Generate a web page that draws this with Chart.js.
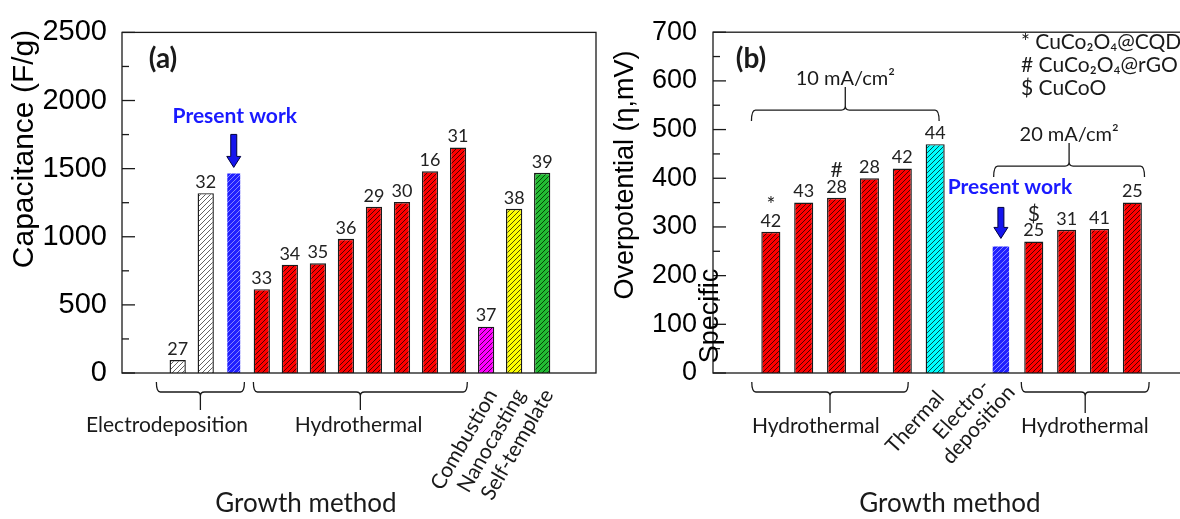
<!DOCTYPE html>
<html>
<head>
<meta charset="utf-8">
<script src="https://cdn.jsdelivr.net/npm/chart.js@4.4.0/dist/chart.umd.min.js"></script>
<style>
    html, body { margin: 0; padding: 0; background: #fff; width: 1180px; height: 519px; overflow: hidden; }
    #capa { position: absolute; left: 0; top: 0; }
    #over { position: absolute; left: 600px; top: 0; }
</style>
</head>
<body>
<canvas id="capa" width="600" height="519"></canvas>
<canvas id="over" width="585" height="519"></canvas>
<script>
// (a) specific capacitance (F/g), one bar per reference
const capRefs    = ['27', '32', '', '33', '34', '35', '36', '29', '30', '16', '31', '37', '38', '39'];
const capMethods = ['Electrodeposition', 'Electrodeposition', 'Electrodeposition',
                    'Hydrothermal', 'Hydrothermal', 'Hydrothermal', 'Hydrothermal',
                    'Hydrothermal', 'Hydrothermal', 'Hydrothermal', 'Hydrothermal',
                    'Combustion', 'Nanocasting', 'Self-template'];
const capValues  = [95, 1320, 1465, 615, 795, 805, 985, 1220, 1255, 1480, 1655, 340, 1205, 1470];
const capPresent = 2;
const capTicks   = [0, 500, 1000, 1500, 2000, 2500];

// (b) overpotential (mV); index 6 is an empty slot
const etaRefs    = ['42', '43', '28', '28', '42', '44', '', '', '25', '31', '41', '25'];
const etaMarks   = ['*', '', '#', '', '', '', '', '', '$', '', '', ''];
const etaMethods = ['Hydrothermal', 'Hydrothermal', 'Hydrothermal', 'Hydrothermal', 'Hydrothermal',
                    'Thermal', null, 'Electrodeposition',
                    'Hydrothermal', 'Hydrothermal', 'Hydrothermal', 'Hydrothermal'];
const etaValues  = [290, 350, 360, 400, 420, 470, null, 260, 270, 294, 296, 350];
const etaPresent = 7;
const etaTicks   = [0, 100, 200, 300, 400, 500, 600, 700];
const etaLegend  = ['* CuCo\u2082O\u2084@CQD', '# CuCo\u2082O\u2084@rGO', '$ CuCoO'];

const ink = '#1a1a1a';
const sans = 'Lato, "Open Sans", sans-serif';
const arial = '"Liberation Sans", Arial, sans-serif';

function hatch(bg, line) {
    const c = document.createElement('canvas');
    c.width = c.height = 5;
    const g = c.getContext('2d');
    g.fillStyle = bg;
    g.fillRect(0, 0, 5, 5);
    g.strokeStyle = line;
    g.lineWidth = 0.9;
    g.beginPath();
    g.moveTo(0, 5); g.lineTo(5, 0);
    g.moveTo(-1, 1); g.lineTo(1, -1);
    g.moveTo(4, 6); g.lineTo(6, 4);
    g.stroke();
    return g.createPattern(c, 'repeat');
}

const fills = {
    'Electrodeposition': hatch('#ffffff', '#505050'),
    'Hydrothermal': hatch('#ff0000', '#3c0000'),
    'Combustion': hatch('#ff00ff', '#3c003c'),
    'Nanocasting': hatch('#ffff00', '#3c3c00'),
    'Self-template': hatch('#22bb33', '#003c00'),
    'Thermal': hatch('#00ffff', '#003c3c')
};
const presentFill = hatch('#2020ff', '#9090ff');

function points(values, present, onlyPresent) {
    const out = [];
    values.forEach((v, i) => {
        if (v == null) return;
        if ((i === present) === onlyPresent) out.push({ x: i, y: v });
    });
    return out;
}

function datasets(values, methods, present, pctMain, pctPresent) {
    const main = points(values, present, false);
    const own = points(values, present, true);
    return [{
        data: main,
        backgroundColor: main.map(p => fills[methods[p.x]]),
        borderColor: ink,
        borderWidth: 1.4,
        barPercentage: pctMain,
        categoryPercentage: 1,
        grouped: false
    }, {
        data: own,
        backgroundColor: presentFill,
        borderWidth: 0,
        barPercentage: pctPresent,
        categoryPercentage: 1,
        grouped: false
    }];
}

// frame + inward ticks on the y axis
function drawBox(chart) {
    const { ctx, chartArea: a } = chart;
    const y = chart.scales.y;
    ctx.save();
    ctx.strokeStyle = ink;
    ctx.lineWidth = 1.3;
    ctx.strokeRect(a.left, a.top, a.right - a.left, a.bottom - a.top);
    y.ticks.forEach(t => {
        const py = y.getPixelForValue(t.value);
        const len = t.label === '' ? 7 : 13;
        ctx.beginPath();
        ctx.moveTo(a.left, py);
        ctx.lineTo(a.left + len, py);
        ctx.stroke();
    });
    ctx.restore();
}

function bracket(ctx, x1, x2, xc, yEnd, yBar, yTip) {
    const r = 4;
    const s = Math.sign(yTip - yBar);
    ctx.beginPath();
    ctx.moveTo(x1, yEnd);
    ctx.quadraticCurveTo(x1, yBar, x1 + r, yBar);
    ctx.lineTo(xc - r, yBar);
    ctx.quadraticCurveTo(xc, yBar, xc, yBar + s * r);
    ctx.lineTo(xc, yTip);
    ctx.moveTo(xc, yBar + s * r);
    ctx.quadraticCurveTo(xc, yBar, xc + r, yBar);
    ctx.lineTo(x2 - r, yBar);
    ctx.quadraticCurveTo(x2, yBar, x2, yEnd);
    ctx.stroke();
}

function text(ctx, str, x, y, font, color, align, deg) {
    ctx.save();
    ctx.translate(x, y);
    if (deg) ctx.rotate(-deg * Math.PI / 180);
    ctx.font = font;
    ctx.fillStyle = color || ink;
    ctx.textAlign = align || 'center';
    ctx.textBaseline = 'middle';
    const lines = String(str).split('\n');
    lines.forEach((l, k) => ctx.fillText(l, 0, (k - (lines.length - 1) / 2) * 23));
    ctx.restore();
}

function arrow(ctx, x, tip, len) {
    ctx.save();
    ctx.beginPath();
    ctx.moveTo(x - 3, tip - len);
    ctx.lineTo(x + 3, tip - len);
    ctx.lineTo(x + 3, tip - 11);
    ctx.lineTo(x + 7, tip - 11);
    ctx.lineTo(x, tip);
    ctx.lineTo(x - 7, tip - 11);
    ctx.lineTo(x - 3, tip - 11);
    ctx.closePath();
    ctx.fillStyle = '#1515ee';
    ctx.fill();
    ctx.strokeStyle = '#000040';
    ctx.lineWidth = 1;
    ctx.stroke();
    ctx.restore();
}

function valueLabels(chart, refs, marks) {
    const { ctx } = chart;
    const meta = chart.getDatasetMeta(0);
    meta.data.forEach((bar, j) => {
        const i = chart.data.datasets[0].data[j].x;
        text(ctx, refs[i], bar.x, bar.y - 11, '18px ' + sans, '#222');
        if (marks && marks[i]) text(ctx, marks[i], bar.x, bar.y - 27, '21px ' + sans, '#222');
    });
}

function presentWork(chart, dx, textUp, tipUp, len) {
    const bar = chart.getDatasetMeta(1).data[0];
    text(chart.ctx, 'Present work', bar.x + dx, bar.y - textUp, 'bold 21px ' + sans, '#1a1aff');
    arrow(chart.ctx, bar.x, bar.y - tipUp, len);
}

const capNotes = {
    id: 'capNotes',
    afterDraw(chart) {
        const { ctx, chartArea: a } = chart;
        const x = chart.scales.x;
        drawBox(chart);
        valueLabels(chart, capRefs);
        presentWork(chart, 1, 57, 6, 33);

        text(ctx, 'Capacitance (F/g)', 25, 149, '30px ' + arial, '#000', 'center', 90);
        text(ctx, '(a)', a.left + 41, a.top + 27, 'bold 28px ' + sans);
        text(ctx, 'Growth method', 306, 504, '26px ' + sans);

        ctx.save();
        ctx.strokeStyle = ink;
        ctx.lineWidth = 1.3;
        const b = a.bottom;
        [[-0.76, 2.38, 'Electrodeposition', -0.38], [2.7, 10.33, 'Hydrothermal', 6.45]].forEach(g => {
            const x1 = x.getPixelForValue(g[0]), x2 = x.getPixelForValue(g[1]);
            bracket(ctx, x1, x2, (x1 + x2) / 2, b + 9, b + 19, b + 37);
            text(ctx, g[2], x.getPixelForValue(g[3]), b + 52, '21px ' + sans);
        });
        ctx.restore();
        capMethods.forEach((m, i) => {
            if (i > 0 && capMethods[i - 1] === m) return;
            if (i < capMethods.length - 1 && capMethods[i + 1] === m) return;
            text(ctx, m, x.getPixelForValue(i) + 6, b + 18, '21px ' + sans, ink, 'right', 60);
        });
    }
};

const etaNotes = {
    id: 'etaNotes',
    afterDraw(chart) {
        const { ctx, chartArea: a } = chart;
        const x = chart.scales.x, y = chart.scales.y;
        drawBox(chart);
        valueLabels(chart, etaRefs, etaMarks);
        presentWork(chart, 9, 59, 8, 31);

        text(ctx, 'Overpotential (\u03b7,mV)', 26, 175, '27px ' + arial, '#000', 'center', 90);
        text(ctx, 'Specific', a.left - 2, a.bottom - 57, '27px ' + arial, '#000', 'center', 90);
        text(ctx, '(b)', a.left + 38, a.top + 27, 'bold 28px ' + sans);
        text(ctx, 'Growth method', 350, 504, '26px ' + sans);
        etaLegend.forEach((l, k) => text(ctx, l, a.right - 160, 42 + k * 23, '21px ' + sans, ink, 'left'));

        ctx.save();
        ctx.strokeStyle = ink;
        ctx.lineWidth = 1.3;
        const b = a.bottom;
        [[-0.58, 4.18, 1.37], [7.62, 11.51, 9.555]].forEach(g => {
            const x1 = x.getPixelForValue(g[0]), x2 = x.getPixelForValue(g[1]);
            bracket(ctx, x1, x2, (x1 + x2) / 2, b + 9, b + 19, b + 40);
            text(ctx, 'Hydrothermal', x.getPixelForValue(g[2]), b + 53, '21px ' + sans);
        });
        [[-0.59, 5.12, 540, '10 mA/cm\u00b2'], [6.78, 11.37, 425, '20 mA/cm\u00b2']].forEach(g => {
            const x1 = x.getPixelForValue(g[0]), x2 = x.getPixelForValue(g[1]);
            const yb = y.getPixelForValue(g[2]);
            bracket(ctx, x1, x2, (x1 + x2) / 2, yb + 11, yb, yb - 23);
            text(ctx, g[3], (x1 + x2) / 2, yb - 32, '20px ' + sans);
        });
        ctx.restore();
        text(ctx, 'Thermal', x.getPixelForValue(5) + 5, b + 21, '21px ' + sans, ink, 'right', 48);
        text(ctx, 'Electro-\ndeposition', x.getPixelForValue(etaPresent) - 31, b + 44, '21px ' + sans, ink, 'center', 48);
    }
};

function yAxis(max, step, ticks, width, pad, size) {
    return {
        min: 0,
        max: max,
        border: { display: false },
        grid: { display: false, drawTicks: false },
        ticks: {
            stepSize: step,
            autoSkip: false,
            padding: pad,
            color: '#000',
            font: { family: arial, size: size },
            callback: v => ticks.includes(v) ? v : ''
        },
        afterFit: s => { s.width = width; }
    };
}

function common(xmin, xmax, y) {
    return {
        responsive: false,
        animation: false,
        devicePixelRatio: 1,
        layout: { padding: { top: 25, bottom: 146, left: 0, right: 4 } },
        plugins: { legend: { display: false }, tooltip: { enabled: false } },
        scales: {
            x: { type: 'linear', min: xmin, max: xmax, offset: false, display: false },
            y: y
        }
    };
}

new Chart(document.getElementById('capa'), {
    type: 'bar',
    data: { datasets: datasets(capValues, capMethods, capPresent, 0.58, 0.46) },
    options: common(-1.986, 14.92, yAxis(2500, 250, capTicks, 122, 15, 29)),
    plugins: [capNotes]
});

new Chart(document.getElementById('over'), {
    type: 'bar',
    data: { datasets: datasets(etaValues, etaMethods, etaPresent, 0.58, 0.5) },
    options: common(-1.76, 12.48, yAxis(700, 50, etaTicks, 113, 16, 27)),
    plugins: [etaNotes]
});
</script>
</body>
</html>
